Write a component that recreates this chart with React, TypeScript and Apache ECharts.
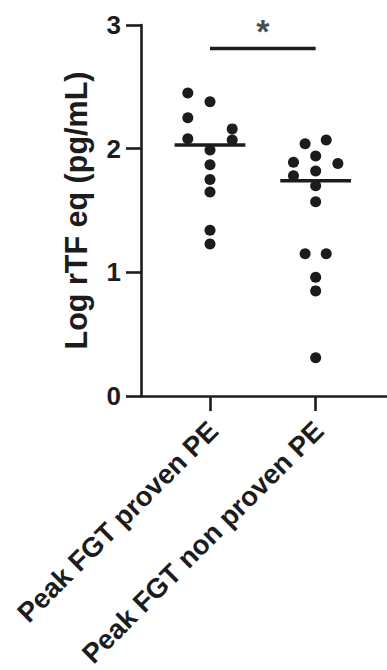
import React, { useEffect, useRef } from "react";
import * as echarts from "echarts";

const categories = ["Peak FGT proven PE", "Peak FGT non proven PE"];
const yTicks = [0, 1, 2, 3];

const provenX = [0.79, 1, 0.79, 1.21, 0.79, 1.21, 1, 1, 1, 1, 1, 1];
const provenY = [2.45, 2.38, 2.25, 2.16, 2.08, 2.07, 1.99, 1.87, 1.75, 1.65, 1.34, 1.23];

const nonProvenX = [1.9, 2.1, 2, 1.79, 2.21, 1.79, 2, 2, 2, 1.9, 2.1, 2, 2, 2];
const nonProvenY = [2.04, 2.07, 1.94, 1.89, 1.88, 1.78, 1.82, 1.7, 1.57, 1.15, 1.15, 0.96, 0.85, 0.31];

const medians = [2.03, 1.74];
const sigLevel = 2.81;
const sigText = "*";

const INK = "#1c1c1c";
const FONT = "Liberation Sans, Arial, sans-serif";

export default function App() {
  const ref = useRef<HTMLDivElement>(null);
  useEffect(() => {
    if (!ref.current) return;
    const chart = echarts.init(ref.current, undefined, { renderer: "svg" });
    const half = 0.335;
    const medianSeries = medians.map((m, i) => ({
      type: "line",
      data: [
        [i + 1 - half, m],
        [i + 1 + half, m],
      ],
      symbol: "none",
      lineStyle: { color: INK, width: 3.5 },
      z: 3,
    }));
    chart.setOption({
      animation: false,
      grid: {
        left: 141,
        right: 0,
        top: 25,
        bottom: 274,
        containLabel: false,
        outerBoundsMode: "none",
      },
      xAxis: {
        type: "value",
        min: 0.347,
        max: 2.675,
        splitLine: { show: false },
        axisLine: { show: true, lineStyle: { color: INK, width: 2.6 } },
        axisTick: {
          show: true,
          length: 15,
          lineStyle: { color: INK, width: 2.6 },
          customValues: [1, 2],
        },
        axisLabel: {
          show: true,
          customValues: [1.03, 2.03],
          rotate: 45,
          margin: 30,
          fontSize: 27.5,
          fontWeight: "bold",
          fontFamily: FONT,
          color: INK,
          formatter: (v: number) => categories[Math.round(v) - 1] ?? "",
        },
      },
      yAxis: {
        type: "value",
        min: 0,
        max: 3,
        interval: 1,
        name: "Log rTF eq (pg/mL)",
        nameLocation: "middle",
        nameGap: 50,
        nameTextStyle: {
          fontSize: 30.5,
          fontWeight: "bold",
          fontFamily: FONT,
          color: INK,
        },
        splitLine: { show: false },
        axisLine: { show: true, lineStyle: { color: INK, width: 2.6 } },
        axisTick: { show: true, length: 15, lineStyle: { color: INK, width: 2.6 } },
        axisLabel: {
          margin: 20,
          fontSize: 26,
          fontWeight: "bold",
          fontFamily: FONT,
          color: INK,
          formatter: (v: number) => (yTicks.includes(v) ? String(v) : ""),
        },
      },
      series: [
        {
          type: "scatter",
          data: provenX.map((x, i) => [x, provenY[i]]),
          symbolSize: 11,
          itemStyle: { color: INK, opacity: 1 },
          z: 2,
        },
        {
          type: "scatter",
          data: nonProvenX.map((x, i) => [x, nonProvenY[i]]),
          symbolSize: 11,
          itemStyle: { color: INK, opacity: 1 },
          z: 2,
        },
        ...medianSeries,
        {
          type: "line",
          data: [
            [1, sigLevel],
            [2, sigLevel],
          ],
          symbol: "none",
          lineStyle: { color: INK, width: 3.3 },
        },
        {
          type: "scatter",
          data: [[1.5, sigLevel]],
          symbolSize: 0,
          label: {
            show: true,
            position: "top",
            distance: 0,
            formatter: sigText,
            fontSize: 34,
            fontWeight: "bold",
            fontFamily: FONT,
            color: INK,
          },
        },
      ],
    });
    return () => chart.dispose();
  }, []);
  return (
    <div
      ref={ref}
      style={{ position: "fixed", left: 0, top: 0, width: 387, height: 670, background: "#fff" }}
    />
  );
}
